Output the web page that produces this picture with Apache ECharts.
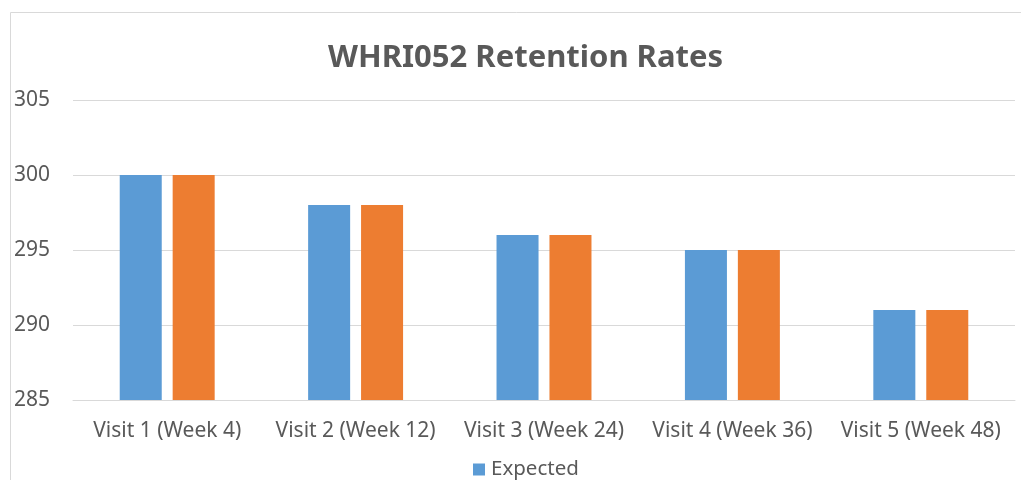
<!DOCTYPE html>
<html><head><meta charset="utf-8">
<script src="https://cdn.jsdelivr.net/npm/echarts@6/dist/echarts.min.js"></script>
<style>html,body{margin:0;padding:0;background:#fff}#c{width:1021px;height:480px}</style>
</head><body><div id="c"></div>
<script>
const categories = ['Visit 1 (Week 4)','Visit 2 (Week 12)','Visit 3 (Week 24)','Visit 4 (Week 36)','Visit 5 (Week 48)'];
const expected = [300, 298, 296, 295, 291];
const actual = [300, 298, 296, 295, 291];
const yTicks = [285, 290, 295, 300, 305];
const font = 'Noto Sans';
const chart = echarts.init(document.getElementById('c'));
chart.setOption({
  animation: false,
  textStyle: {fontFamily: font},
  title: {text: 'WHRI052 Retention Rates', left: 323, top: 38,
    textStyle: {fontFamily: font, fontSize: 31, fontWeight: 'bold', color: '#595959'}},
  graphic: [{type: 'rect', shape: {x: 10.5, y: 12.5, width: 1100, height: 600},
    style: {fill: 'none', stroke: '#d9d9d9', lineWidth: 1}, silent: true}],
  legend: {data: ['Expected'], top: 454, left: 468, itemWidth: 12, itemHeight: 12, itemGap: 5,
    textStyle: {fontFamily: font, fontSize: 20.5, color: '#595959', padding: [0, 0, 0, 1]}, icon: 'rect'},
  grid: {left: 73, right: 6, top: 100, bottom: 80},
  xAxis: {type: 'category', data: categories,
    axisLine: {lineStyle: {color: '#d9d9d9'}}, axisTick: {show: false},
    axisLabel: {fontFamily: font, fontSize: 21, color: '#595959', margin: 21, interval: 0}},
  yAxis: {type: 'value', min: yTicks[0], max: yTicks[yTicks.length-1], interval: 5,
    axisLine: {show: false}, axisTick: {show: false},
    splitLine: {lineStyle: {color: '#d9d9d9'}},
    axisLabel: {fontFamily: font, fontSize: 21, color: '#595959', margin: 23}},
  series: [
    {name: 'Expected', type: 'bar', data: expected, barWidth: '22.3%', barGap: '26%',
     itemStyle: {color: '#5b9bd5'}},
    {name: 'Actual', type: 'bar', data: actual, barWidth: '22.3%',
     itemStyle: {color: '#ed7d31'}}
  ]
});
</script></body></html>
